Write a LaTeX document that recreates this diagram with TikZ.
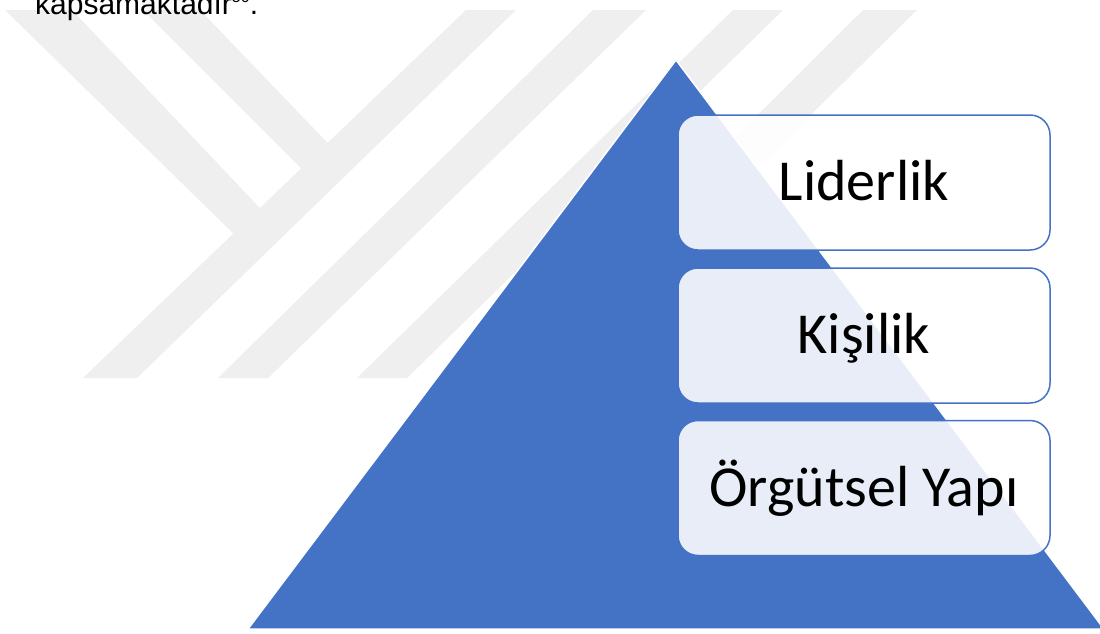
\documentclass[tikz,border=0pt]{standalone}
\usepackage{fontspec}
\setmainfont{Liberation Sans}
\newfontfamily\calibri{Carlito}
\definecolor{tri}{RGB}{68,114,196}
\definecolor{wm}{RGB}{239,239,239}
\begin{document}
\begin{tikzpicture}[x=1pt,y=-1pt,
  wmband/.style={fill=wm},
  box/.style={draw=tri, line width=1.5pt, fill=white, fill opacity=0.88, text opacity=1,
    rounded corners=20pt, minimum width=372pt, minimum height=135pt, inner sep=0pt,
    text height=36pt, text depth=0pt, font=\calibri\fontsize{58}{58}\selectfont}]
\useasboundingbox (0,0) rectangle (1100,633);
\clip (0,0) rectangle (1100,633);
\fill[white] (0,0) rectangle (1100,633);
% watermark
\fill[wmband] (83,378) -- (137,378) -- (516,10) -- (466,10) -- cycle;
\fill[wmband] (5,10) -- (72,10) -- (276,225) -- (240,240) -- cycle;
\fill[wmband] (143,10) -- (200,10) -- (344,160) -- (308,175) -- cycle;
\fill[wmband] (218,378) -- (268,378) -- (646,10) -- (593,10) -- cycle;
\fill[wmband] (357,378) -- (407,378) -- (783,10) -- (733,10) -- cycle;
\fill[wmband] (494,378) -- (544,378) -- (917,10) -- (863,10) -- cycle;
% intro text
\node[anchor=base west, inner sep=0pt, font=\fontsize{30}{30}\selectfont] (intro) at (35,14)
  {kapsamaktadır\raisebox{12pt}{\fontsize{16}{16}\selectfont 50}.};
% pyramid
\filldraw[fill=tri, draw=white, line width=1.5pt] (676,60) -- (248,629) -- (1104,629) -- cycle;
% boxes
\node[box] (b1) at (864,182.5) {Liderlik};
\node[box] (b2) at (864,335.5) {Kişilik};
\node[box] (b3) at (864,488) {Örgütsel Yapı};
\end{tikzpicture}
\end{document}
